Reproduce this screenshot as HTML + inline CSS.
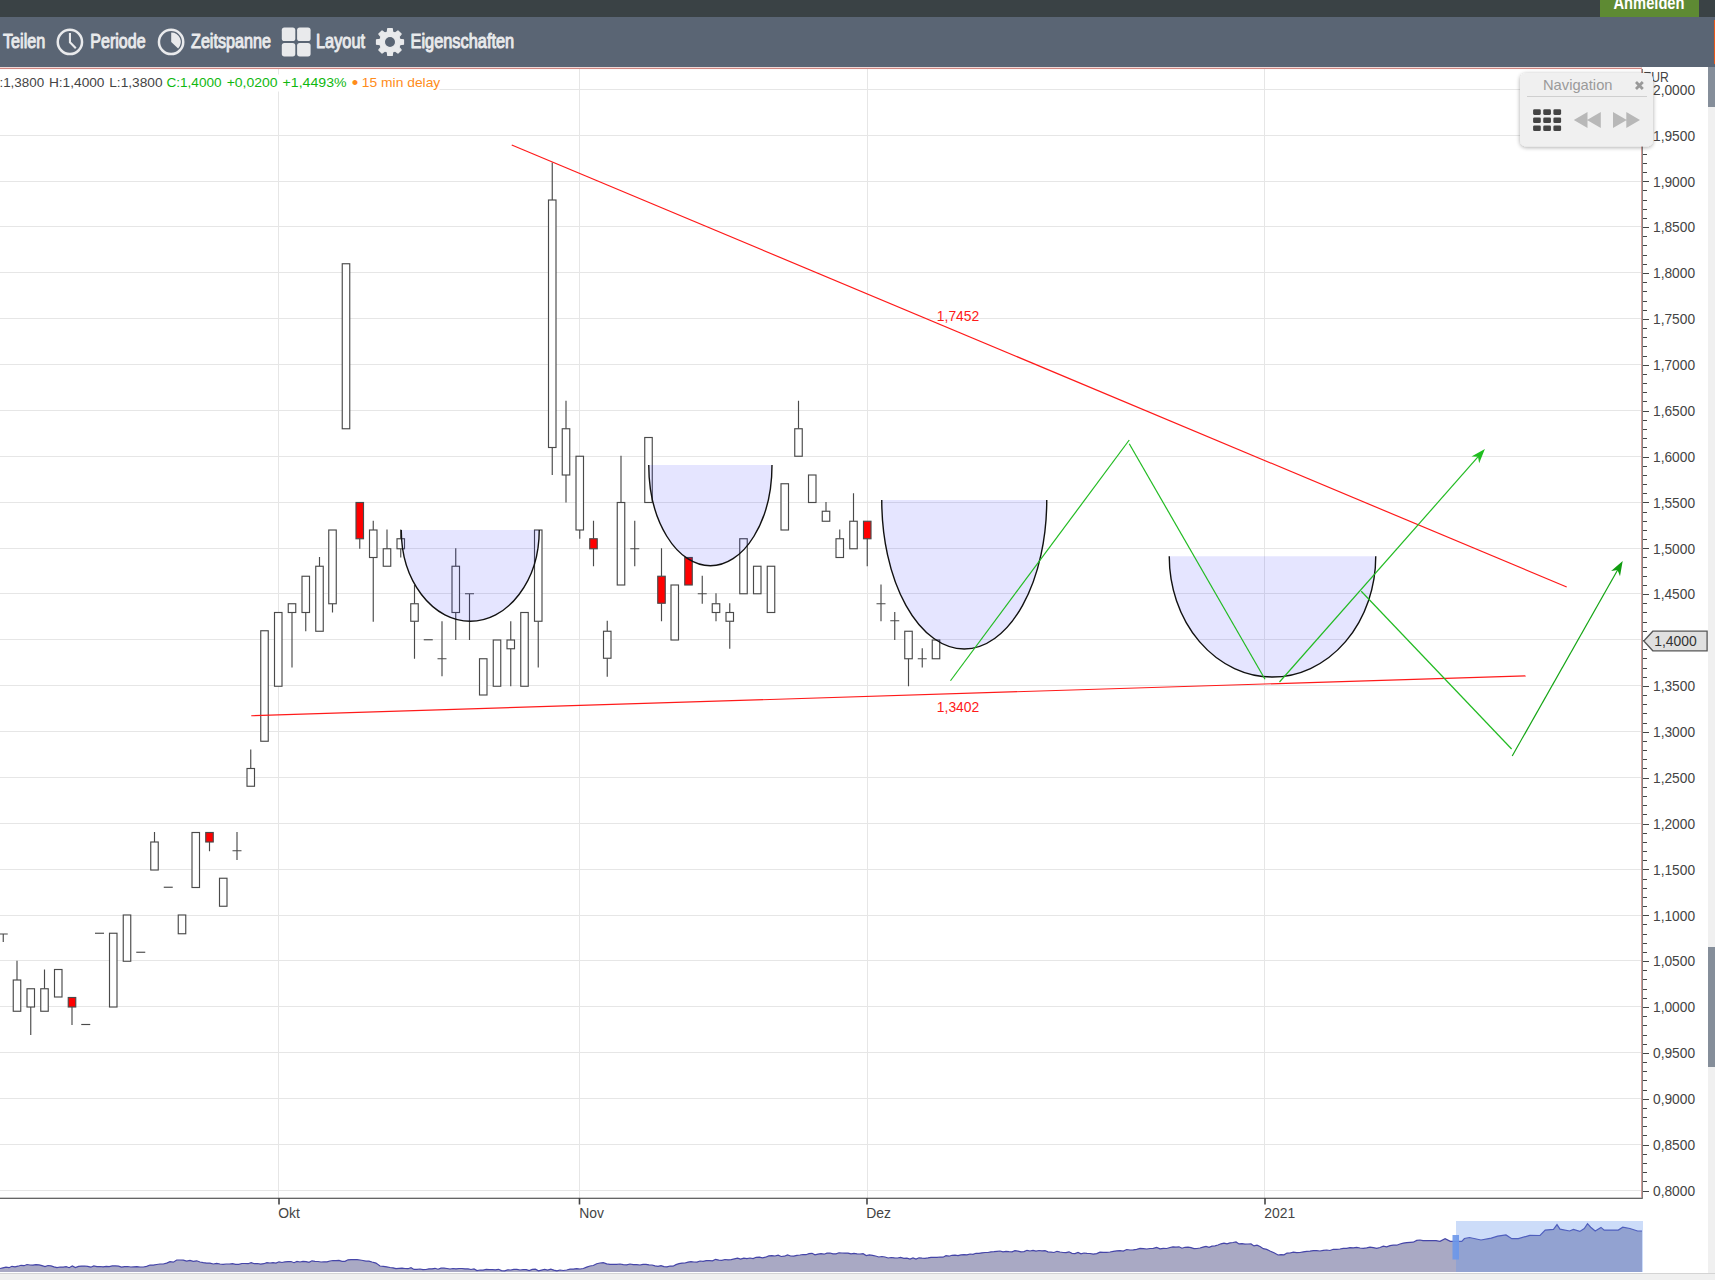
<!DOCTYPE html>
<html lang="de"><head><meta charset="utf-8"><title>Chart</title>
<style>
html,body{margin:0;padding:0;background:#fff;}
body{width:1715px;height:1280px;overflow:hidden;position:relative;font-family:"Liberation Sans", sans-serif;}
svg{display:block;position:absolute;left:0;top:0;}
text{font-family:"Liberation Sans", sans-serif;}
</style></head><body>
<svg width="1715" height="1280" viewBox="0 0 1715 1280">
<defs>
<filter id="sh" x="-10%" y="-10%" width="120%" height="130%"><feGaussianBlur in="SourceAlpha" stdDeviation="2"/><feOffset dx="0" dy="1"/><feComponentTransfer><feFuncA type="linear" slope="0.35"/></feComponentTransfer><feMerge><feMergeNode/><feMergeNode in="SourceGraphic"/></feMerge></filter>
</defs>
<rect x="0" y="0" width="1715" height="1280" fill="#ffffff"/>

<g id="grid" stroke="#e6e6e6" stroke-width="1">
<line x1="0" y1="89.5" x2="1642" y2="89.5"/>
<line x1="0" y1="135.5" x2="1642" y2="135.5"/>
<line x1="0" y1="181.5" x2="1642" y2="181.5"/>
<line x1="0" y1="226.5" x2="1642" y2="226.5"/>
<line x1="0" y1="272.5" x2="1642" y2="272.5"/>
<line x1="0" y1="318.5" x2="1642" y2="318.5"/>
<line x1="0" y1="364.5" x2="1642" y2="364.5"/>
<line x1="0" y1="410.5" x2="1642" y2="410.5"/>
<line x1="0" y1="456.5" x2="1642" y2="456.5"/>
<line x1="0" y1="502.5" x2="1642" y2="502.5"/>
<line x1="0" y1="548.5" x2="1642" y2="548.5"/>
<line x1="0" y1="593.5" x2="1642" y2="593.5"/>
<line x1="0" y1="639.5" x2="1642" y2="639.5"/>
<line x1="0" y1="685.5" x2="1642" y2="685.5"/>
<line x1="0" y1="731.5" x2="1642" y2="731.5"/>
<line x1="0" y1="777.5" x2="1642" y2="777.5"/>
<line x1="0" y1="823.5" x2="1642" y2="823.5"/>
<line x1="0" y1="869.5" x2="1642" y2="869.5"/>
<line x1="0" y1="915.5" x2="1642" y2="915.5"/>
<line x1="0" y1="960.5" x2="1642" y2="960.5"/>
<line x1="0" y1="1006.5" x2="1642" y2="1006.5"/>
<line x1="0" y1="1052.5" x2="1642" y2="1052.5"/>
<line x1="0" y1="1098.5" x2="1642" y2="1098.5"/>
<line x1="0" y1="1144.5" x2="1642" y2="1144.5"/>
<line x1="0" y1="1190.5" x2="1642" y2="1190.5"/>
<line x1="278.5" y1="69" x2="278.5" y2="1198"/>
<line x1="579.5" y1="69" x2="579.5" y2="1198"/>
<line x1="867.5" y1="69" x2="867.5" y2="1198"/>
<line x1="1264.5" y1="69" x2="1264.5" y2="1198"/>
</g>
<g id="candles" stroke="#4a4a4a" stroke-width="1.15" fill="#ffffff">
<path d="M-1.75 934H7.75M3.25 934V942" fill="none"/>
<path d="M17 960.75V980" fill="none"/>
<rect x="13.25" y="980" width="7.5" height="31.25" fill="#ffffff"/>
<path d="M30.75 1007V1035" fill="none"/>
<rect x="27.00" y="988.75" width="7.5" height="18.25" fill="#ffffff"/>
<path d="M44.5 969.5V988.75" fill="none"/>
<rect x="40.75" y="988.75" width="7.5" height="22.5" fill="#ffffff"/>
<rect x="54.50" y="969.5" width="7.5" height="27.5" fill="#ffffff"/>
<path d="M72 1007V1025" fill="none"/>
<rect x="68.25" y="997.5" width="7.5" height="9.5" fill="#ff0000"/>
<path d="M81.25 1024.5H90.25" fill="none"/>
<path d="M95.0 933.25H104.0" fill="none"/>
<rect x="109.50" y="933.25" width="7.5" height="73.75" fill="#ffffff"/>
<rect x="123.25" y="915" width="7.5" height="46.25" fill="#ffffff"/>
<path d="M136.25 952.25H145.25" fill="none"/>
<path d="M154.5 832V842" fill="none"/>
<rect x="150.75" y="842" width="7.5" height="28" fill="#ffffff"/>
<path d="M163.75 887.25H172.75" fill="none"/>
<rect x="178.25" y="915" width="7.5" height="18.75" fill="#ffffff"/>
<rect x="192.00" y="832.5" width="7.5" height="55.0" fill="#ffffff"/>
<path d="M209.5 842V851.25" fill="none"/>
<rect x="205.75" y="832.5" width="7.5" height="9.5" fill="#ff0000"/>
<rect x="219.50" y="878.25" width="7.5" height="28.0" fill="#ffffff"/>
<path d="M237 832V860M232.5 850.75H241.5" fill="none"/>
<path d="M250.75 749.5V768.5" fill="none"/>
<rect x="247.00" y="768.5" width="7.5" height="17.75" fill="#ffffff"/>
<rect x="260.75" y="630.75" width="7.5" height="110.5" fill="#ffffff"/>
<rect x="274.50" y="612.5" width="7.5" height="73.75" fill="#ffffff"/>
<path d="M292 612.5V667.5" fill="none"/>
<rect x="288.25" y="603.75" width="7.5" height="8.75" fill="#ffffff"/>
<path d="M305.75 612.5V631.25" fill="none"/>
<rect x="302.00" y="576.25" width="7.5" height="36.25" fill="#ffffff"/>
<path d="M319.5 557V566.25" fill="none"/>
<rect x="315.75" y="566.25" width="7.5" height="65.0" fill="#ffffff"/>
<path d="M332.5 603.75V612.5" fill="none"/>
<rect x="328.75" y="530" width="7.5" height="73.75" fill="#ffffff"/>
<rect x="342.25" y="263.75" width="7.5" height="165.0" fill="#ffffff"/>
<path d="M359.75 538.75V548.75" fill="none"/>
<rect x="356.00" y="502.5" width="7.5" height="36.25" fill="#ff0000"/>
<path d="M373.25 520.75V530M373.25 557.5V621.75" fill="none"/>
<rect x="369.50" y="530" width="7.5" height="27.5" fill="#ffffff"/>
<path d="M387 529.5V548.75" fill="none"/>
<rect x="383.25" y="548.75" width="7.5" height="17.5" fill="#ffffff"/>
<path d="M400.75 529.5V538.75M400.75 548.75V557.5" fill="none"/>
<rect x="397.00" y="538.75" width="7.5" height="10.0" fill="#ffffff"/>
<path d="M414.5 585V603.75M414.5 621.25V658.75" fill="none"/>
<rect x="410.75" y="603.75" width="7.5" height="17.5" fill="#ffffff"/>
<path d="M423.75 639.75H432.75" fill="none"/>
<path d="M442 621.25V676.25M437.5 658.75H446.5" fill="none"/>
<path d="M455.75 548.25V566.25M455.75 612.5V640" fill="none"/>
<rect x="452.00" y="566.25" width="7.5" height="46.25" fill="#ffffff"/>
<path d="M469.5 593.75V640M465.0 593.75H474.0" fill="none"/>
<rect x="479.50" y="658.75" width="7.5" height="36.25" fill="#ffffff"/>
<rect x="493.25" y="640" width="7.5" height="46.25" fill="#ffffff"/>
<path d="M510.75 621.25V640M510.75 648.75V686.25" fill="none"/>
<rect x="507.00" y="640" width="7.5" height="8.75" fill="#ffffff"/>
<rect x="520.75" y="612.5" width="7.5" height="73.75" fill="#ffffff"/>
<path d="M538.25 621.25V667.5" fill="none"/>
<rect x="534.50" y="530" width="7.5" height="91.25" fill="#ffffff"/>
<path d="M552.25 162.5V200M552.25 447.5V475" fill="none"/>
<rect x="548.50" y="200" width="7.5" height="247.5" fill="#ffffff"/>
<path d="M566 400.75V428.75M566 475V502.5" fill="none"/>
<rect x="562.25" y="428.75" width="7.5" height="46.25" fill="#ffffff"/>
<path d="M579.75 530V538.75" fill="none"/>
<rect x="576.00" y="456.25" width="7.5" height="73.75" fill="#ffffff"/>
<path d="M593.5 520.75V538.75M593.5 548.75V566.25" fill="none"/>
<rect x="589.75" y="538.75" width="7.5" height="10.0" fill="#ff0000"/>
<path d="M607.25 620.75V631.25M607.25 658.25V676.75" fill="none"/>
<rect x="603.50" y="631.25" width="7.5" height="27.0" fill="#ffffff"/>
<path d="M621 455.75V502.5" fill="none"/>
<rect x="617.25" y="502.5" width="7.5" height="82.5" fill="#ffffff"/>
<path d="M634.75 520.75V566.25M630.25 548.75H639.25" fill="none"/>
<rect x="644.75" y="437.5" width="7.5" height="65.0" fill="#ffffff"/>
<path d="M661.5 548.25V576.25M661.5 603.25V621.25" fill="none"/>
<rect x="657.75" y="576.25" width="7.5" height="27.0" fill="#ff0000"/>
<rect x="671.00" y="585" width="7.5" height="55" fill="#ffffff"/>
<rect x="684.75" y="557.5" width="7.5" height="27.5" fill="#ff0000"/>
<path d="M702.25 575.75V603.75M697.75 593.75H706.75" fill="none"/>
<path d="M716 593.25V603.75M716 612.5V621.25" fill="none"/>
<rect x="712.25" y="603.75" width="7.5" height="8.75" fill="#ffffff"/>
<path d="M729.75 603.25V612.5M729.75 621.25V648.75" fill="none"/>
<rect x="726.00" y="612.5" width="7.5" height="8.75" fill="#ffffff"/>
<rect x="739.75" y="538.75" width="7.5" height="55.0" fill="#ffffff"/>
<rect x="753.50" y="566.25" width="7.5" height="27.5" fill="#ffffff"/>
<rect x="767.25" y="566.25" width="7.5" height="46.25" fill="#ffffff"/>
<rect x="781.00" y="483.75" width="7.5" height="46.25" fill="#ffffff"/>
<path d="M798.5 400.75V428.75" fill="none"/>
<rect x="794.75" y="428.75" width="7.5" height="27.5" fill="#ffffff"/>
<rect x="808.50" y="475" width="7.5" height="27.5" fill="#ffffff"/>
<path d="M826 502V511.25" fill="none"/>
<rect x="822.25" y="511.25" width="7.5" height="10.0" fill="#ffffff"/>
<path d="M839.75 529.5V538.75" fill="none"/>
<rect x="836.00" y="538.75" width="7.5" height="18.75" fill="#ffffff"/>
<path d="M853.5 493.25V521.25" fill="none"/>
<rect x="849.75" y="521.25" width="7.5" height="27.5" fill="#ffffff"/>
<path d="M867.25 538.75V566.25" fill="none"/>
<rect x="863.50" y="521.25" width="7.5" height="17.5" fill="#ff0000"/>
<path d="M881 584.5V621.25M876.5 603.75H885.5" fill="none"/>
<path d="M894.75 612V640M890.25 620.75H899.25" fill="none"/>
<path d="M908.5 658.75V686.25" fill="none"/>
<rect x="904.75" y="631.25" width="7.5" height="27.5" fill="#ffffff"/>
<path d="M922.25 648.25V667.5M917.75 658.75H926.75" fill="none"/>
<rect x="932.25" y="640" width="7.5" height="18.75" fill="#ffffff"/>
</g>
<path d="M401.25 530A69.0 91.25 0 0 0 539.25 530Z" fill="#0000ff" fill-opacity="0.1" stroke="none"/>
<path d="M401.25 530A69.0 91.25 0 0 0 539.25 530" fill="none" stroke="#111" stroke-width="1.4"/>
<path d="M648.75 465A61.625 100.75 0 0 0 772 465Z" fill="#0000ff" fill-opacity="0.1" stroke="none"/>
<path d="M648.75 465A61.625 100.75 0 0 0 772 465" fill="none" stroke="#111" stroke-width="1.4"/>
<path d="M881.75 500A82.5 149 0 0 0 1046.75 500Z" fill="#0000ff" fill-opacity="0.1" stroke="none"/>
<path d="M881.75 500A82.5 149 0 0 0 1046.75 500" fill="none" stroke="#111" stroke-width="1.4"/>
<path d="M1169.25 556.25A103.25 120.75 0 0 0 1375.75 556.25Z" fill="#0000ff" fill-opacity="0.1" stroke="none"/>
<path d="M1169.25 556.25A103.25 120.75 0 0 0 1375.75 556.25" fill="none" stroke="#111" stroke-width="1.4"/>
<g stroke="#ff1a1a" stroke-width="1.2" fill="none">
<line x1="511.75" y1="145" x2="1566.7" y2="587"/>
<line x1="251.25" y1="715.75" x2="1525.4" y2="675.8"/>
</g>
<text x="936.8" y="320.8" font-size="13.9" fill="#ff1a1a">1,7452</text>
<text x="936.8" y="712" font-size="13.9" fill="#ff1a1a">1,3402</text>
<g stroke="#22bb22" stroke-width="1.2" fill="none">
<line x1="950.5" y1="680.75" x2="1129.25" y2="440"/>
<line x1="1129.25" y1="443.75" x2="1265" y2="679.25"/>
<line x1="1279.5" y1="682" x2="1479.5" y2="455.2"/>
<line x1="1361.25" y1="591.25" x2="1511.6" y2="749"/>
<line x1="1512.2" y1="756" x2="1618.6" y2="568.2" stroke="#14a514"/>
</g>
<polygon points="1484.90,449.00 1479.14,463.25 1478.02,456.80 1471.49,456.50" fill="#1fbe1f"/>
<polygon points="1622.70,561.00 1619.99,576.13 1617.57,570.05 1611.11,571.10" fill="#109c10"/>
<rect x="0" y="74.5" width="439.5" height="17" fill="#ffffff"/>
<text x="-11" y="87.4" font-size="13" fill="#444" textLength="55.2" lengthAdjust="spacingAndGlyphs">O:1,3800</text>
<text x="48.9" y="87.4" font-size="13" fill="#444" textLength="55.6" lengthAdjust="spacingAndGlyphs">H:1,4000</text>
<text x="109.2" y="87.4" font-size="13" fill="#444" textLength="53.4" lengthAdjust="spacingAndGlyphs">L:1,3800</text>
<text x="166.4" y="87.4" font-size="13" fill="#0fb80f" textLength="55.2" lengthAdjust="spacingAndGlyphs">C:1,4000</text>
<text x="226.7" y="87.4" font-size="13" fill="#0fb80f" textLength="50.9" lengthAdjust="spacingAndGlyphs">+0,0200</text>
<text x="282.6" y="87.4" font-size="13" fill="#0fb80f" textLength="64" lengthAdjust="spacingAndGlyphs">+1,4493%</text>
<text x="351.7" y="89.4" font-size="18.5" fill="#ff8c1a">•</text>
<text x="361.8" y="87.4" font-size="13" fill="#ff8c1a" textLength="78.5" lengthAdjust="spacingAndGlyphs">15 min delay</text>
<rect x="0" y="67.7" width="1642.1" height="1.35" fill="#cf8580"/>
<rect x="1641.0" y="67.7" width="1.0" height="1130" fill="#d59a96"/>
<rect x="1642.0" y="69" width="0.8" height="1129" fill="#666"/>
<rect x="0" y="1197.7" width="1642.8" height="1.2" fill="#555"/>
<g stroke="#444" stroke-width="1.1" shape-rendering="crispEdges">
<line x1="1643" y1="90.5" x2="1649" y2="90.5"/>
<line x1="1643" y1="99.5" x2="1647" y2="99.5"/>
<line x1="1643" y1="108.5" x2="1647" y2="108.5"/>
<line x1="1643" y1="117.5" x2="1647" y2="117.5"/>
<line x1="1643" y1="126.5" x2="1647" y2="126.5"/>
<line x1="1643" y1="135.5" x2="1649" y2="135.5"/>
<line x1="1643" y1="145.5" x2="1647" y2="145.5"/>
<line x1="1643" y1="154.5" x2="1647" y2="154.5"/>
<line x1="1643" y1="163.5" x2="1647" y2="163.5"/>
<line x1="1643" y1="172.5" x2="1647" y2="172.5"/>
<line x1="1643" y1="181.5" x2="1649" y2="181.5"/>
<line x1="1643" y1="190.5" x2="1647" y2="190.5"/>
<line x1="1643" y1="200.5" x2="1647" y2="200.5"/>
<line x1="1643" y1="209.5" x2="1647" y2="209.5"/>
<line x1="1643" y1="218.5" x2="1647" y2="218.5"/>
<line x1="1643" y1="227.5" x2="1649" y2="227.5"/>
<line x1="1643" y1="236.5" x2="1647" y2="236.5"/>
<line x1="1643" y1="245.5" x2="1647" y2="245.5"/>
<line x1="1643" y1="255.5" x2="1647" y2="255.5"/>
<line x1="1643" y1="264.5" x2="1647" y2="264.5"/>
<line x1="1643" y1="273.5" x2="1649" y2="273.5"/>
<line x1="1643" y1="282.5" x2="1647" y2="282.5"/>
<line x1="1643" y1="291.5" x2="1647" y2="291.5"/>
<line x1="1643" y1="301.5" x2="1647" y2="301.5"/>
<line x1="1643" y1="310.5" x2="1647" y2="310.5"/>
<line x1="1643" y1="319.5" x2="1649" y2="319.5"/>
<line x1="1643" y1="328.5" x2="1647" y2="328.5"/>
<line x1="1643" y1="337.5" x2="1647" y2="337.5"/>
<line x1="1643" y1="346.5" x2="1647" y2="346.5"/>
<line x1="1643" y1="356.5" x2="1647" y2="356.5"/>
<line x1="1643" y1="365.5" x2="1649" y2="365.5"/>
<line x1="1643" y1="374.5" x2="1647" y2="374.5"/>
<line x1="1643" y1="383.5" x2="1647" y2="383.5"/>
<line x1="1643" y1="392.5" x2="1647" y2="392.5"/>
<line x1="1643" y1="401.5" x2="1647" y2="401.5"/>
<line x1="1643" y1="411.5" x2="1649" y2="411.5"/>
<line x1="1643" y1="420.5" x2="1647" y2="420.5"/>
<line x1="1643" y1="429.5" x2="1647" y2="429.5"/>
<line x1="1643" y1="438.5" x2="1647" y2="438.5"/>
<line x1="1643" y1="447.5" x2="1647" y2="447.5"/>
<line x1="1643" y1="457.5" x2="1649" y2="457.5"/>
<line x1="1643" y1="466.5" x2="1647" y2="466.5"/>
<line x1="1643" y1="475.5" x2="1647" y2="475.5"/>
<line x1="1643" y1="484.5" x2="1647" y2="484.5"/>
<line x1="1643" y1="493.5" x2="1647" y2="493.5"/>
<line x1="1643" y1="502.5" x2="1649" y2="502.5"/>
<line x1="1643" y1="512.5" x2="1647" y2="512.5"/>
<line x1="1643" y1="521.5" x2="1647" y2="521.5"/>
<line x1="1643" y1="530.5" x2="1647" y2="530.5"/>
<line x1="1643" y1="539.5" x2="1647" y2="539.5"/>
<line x1="1643" y1="548.5" x2="1649" y2="548.5"/>
<line x1="1643" y1="557.5" x2="1647" y2="557.5"/>
<line x1="1643" y1="567.5" x2="1647" y2="567.5"/>
<line x1="1643" y1="576.5" x2="1647" y2="576.5"/>
<line x1="1643" y1="585.5" x2="1647" y2="585.5"/>
<line x1="1643" y1="594.5" x2="1649" y2="594.5"/>
<line x1="1643" y1="603.5" x2="1647" y2="603.5"/>
<line x1="1643" y1="612.5" x2="1647" y2="612.5"/>
<line x1="1643" y1="622.5" x2="1647" y2="622.5"/>
<line x1="1643" y1="631.5" x2="1647" y2="631.5"/>
<line x1="1643" y1="640.5" x2="1649" y2="640.5"/>
<line x1="1643" y1="649.5" x2="1647" y2="649.5"/>
<line x1="1643" y1="658.5" x2="1647" y2="658.5"/>
<line x1="1643" y1="668.5" x2="1647" y2="668.5"/>
<line x1="1643" y1="677.5" x2="1647" y2="677.5"/>
<line x1="1643" y1="686.5" x2="1649" y2="686.5"/>
<line x1="1643" y1="695.5" x2="1647" y2="695.5"/>
<line x1="1643" y1="704.5" x2="1647" y2="704.5"/>
<line x1="1643" y1="713.5" x2="1647" y2="713.5"/>
<line x1="1643" y1="723.5" x2="1647" y2="723.5"/>
<line x1="1643" y1="732.5" x2="1649" y2="732.5"/>
<line x1="1643" y1="741.5" x2="1647" y2="741.5"/>
<line x1="1643" y1="750.5" x2="1647" y2="750.5"/>
<line x1="1643" y1="759.5" x2="1647" y2="759.5"/>
<line x1="1643" y1="768.5" x2="1647" y2="768.5"/>
<line x1="1643" y1="778.5" x2="1649" y2="778.5"/>
<line x1="1643" y1="787.5" x2="1647" y2="787.5"/>
<line x1="1643" y1="796.5" x2="1647" y2="796.5"/>
<line x1="1643" y1="805.5" x2="1647" y2="805.5"/>
<line x1="1643" y1="814.5" x2="1647" y2="814.5"/>
<line x1="1643" y1="824.5" x2="1649" y2="824.5"/>
<line x1="1643" y1="833.5" x2="1647" y2="833.5"/>
<line x1="1643" y1="842.5" x2="1647" y2="842.5"/>
<line x1="1643" y1="851.5" x2="1647" y2="851.5"/>
<line x1="1643" y1="860.5" x2="1647" y2="860.5"/>
<line x1="1643" y1="869.5" x2="1649" y2="869.5"/>
<line x1="1643" y1="879.5" x2="1647" y2="879.5"/>
<line x1="1643" y1="888.5" x2="1647" y2="888.5"/>
<line x1="1643" y1="897.5" x2="1647" y2="897.5"/>
<line x1="1643" y1="906.5" x2="1647" y2="906.5"/>
<line x1="1643" y1="915.5" x2="1649" y2="915.5"/>
<line x1="1643" y1="924.5" x2="1647" y2="924.5"/>
<line x1="1643" y1="934.5" x2="1647" y2="934.5"/>
<line x1="1643" y1="943.5" x2="1647" y2="943.5"/>
<line x1="1643" y1="952.5" x2="1647" y2="952.5"/>
<line x1="1643" y1="961.5" x2="1649" y2="961.5"/>
<line x1="1643" y1="970.5" x2="1647" y2="970.5"/>
<line x1="1643" y1="979.5" x2="1647" y2="979.5"/>
<line x1="1643" y1="989.5" x2="1647" y2="989.5"/>
<line x1="1643" y1="998.5" x2="1647" y2="998.5"/>
<line x1="1643" y1="1007.5" x2="1649" y2="1007.5"/>
<line x1="1643" y1="1016.5" x2="1647" y2="1016.5"/>
<line x1="1643" y1="1025.5" x2="1647" y2="1025.5"/>
<line x1="1643" y1="1035.5" x2="1647" y2="1035.5"/>
<line x1="1643" y1="1044.5" x2="1647" y2="1044.5"/>
<line x1="1643" y1="1053.5" x2="1649" y2="1053.5"/>
<line x1="1643" y1="1062.5" x2="1647" y2="1062.5"/>
<line x1="1643" y1="1071.5" x2="1647" y2="1071.5"/>
<line x1="1643" y1="1080.5" x2="1647" y2="1080.5"/>
<line x1="1643" y1="1090.5" x2="1647" y2="1090.5"/>
<line x1="1643" y1="1099.5" x2="1649" y2="1099.5"/>
<line x1="1643" y1="1108.5" x2="1647" y2="1108.5"/>
<line x1="1643" y1="1117.5" x2="1647" y2="1117.5"/>
<line x1="1643" y1="1126.5" x2="1647" y2="1126.5"/>
<line x1="1643" y1="1135.5" x2="1647" y2="1135.5"/>
<line x1="1643" y1="1145.5" x2="1649" y2="1145.5"/>
<line x1="1643" y1="1154.5" x2="1647" y2="1154.5"/>
<line x1="1643" y1="1163.5" x2="1647" y2="1163.5"/>
<line x1="1643" y1="1172.5" x2="1647" y2="1172.5"/>
<line x1="1643" y1="1181.5" x2="1647" y2="1181.5"/>
<line x1="1643" y1="1191.5" x2="1649" y2="1191.5"/>
</g>
<g font-size="13.75" fill="#444">
<text x="1643.2" y="81.7" textLength="25.6" lengthAdjust="spacingAndGlyphs">EUR</text>
<text x="1653.0" y="94.80">2,0000</text>
<text x="1653.0" y="140.68">1,9500</text>
<text x="1653.0" y="186.55">1,9000</text>
<text x="1653.0" y="232.42">1,8500</text>
<text x="1653.0" y="278.30">1,8000</text>
<text x="1653.0" y="324.18">1,7500</text>
<text x="1653.0" y="370.05">1,7000</text>
<text x="1653.0" y="415.93">1,6500</text>
<text x="1653.0" y="461.80">1,6000</text>
<text x="1653.0" y="507.67">1,5500</text>
<text x="1653.0" y="553.55">1,5000</text>
<text x="1653.0" y="599.42">1,4500</text>
<text x="1653.0" y="691.17">1,3500</text>
<text x="1653.0" y="737.05">1,3000</text>
<text x="1653.0" y="782.92">1,2500</text>
<text x="1653.0" y="828.80">1,2000</text>
<text x="1653.0" y="874.68">1,1500</text>
<text x="1653.0" y="920.55">1,1000</text>
<text x="1653.0" y="966.43">1,0500</text>
<text x="1653.0" y="1012.30">1,0000</text>
<text x="1653.0" y="1058.17">0,9500</text>
<text x="1653.0" y="1104.05">0,9000</text>
<text x="1653.0" y="1149.93">0,8500</text>
<text x="1653.0" y="1195.80">0,8000</text>
</g>
<path d="M1643.8 641L1652.8 631.2H1707.1V650.8H1652.8Z" fill="#e0e0e0" stroke="#555" stroke-width="1.3"/>
<text x="1654.2" y="645.6" font-size="13.9" fill="#333">1,4000</text>
<g stroke="#444" stroke-width="1.6">
<line x1="279" y1="1198" x2="279" y2="1204.5"/>
<line x1="579.5" y1="1198" x2="579.5" y2="1204.5"/>
<line x1="867" y1="1198" x2="867" y2="1204.5"/>
<line x1="1265" y1="1198" x2="1265" y2="1204.5"/>
</g>
<g font-size="13.9" fill="#444">
<text x="278.3" y="1218">Okt</text>
<text x="579.3" y="1218">Nov</text>
<text x="866.3" y="1218">Dez</text>
<text x="1264.3" y="1218">2021</text>
</g>
<polygon points="0,1272 0.0,1268.5 3.0,1267.8 6.0,1267.2 9.0,1267.7 12.0,1266.3 15.0,1266.8 18.0,1266.2 21.0,1265.3 24.0,1265.7 27.0,1264.5 30.0,1265.0 33.0,1265.1 36.0,1264.6 39.0,1264.9 42.0,1265.7 45.0,1266.6 48.0,1265.5 51.0,1265.9 54.0,1266.8 57.0,1267.6 60.0,1267.0 63.1,1267.1 66.2,1266.7 69.2,1267.7 72.3,1266.0 75.4,1267.5 78.5,1266.4 81.5,1266.1 84.6,1266.0 87.7,1266.3 90.8,1267.2 93.8,1266.0 96.9,1266.7 100.0,1266.5 103.1,1266.8 106.2,1266.3 109.2,1266.7 112.3,1265.9 115.4,1265.9 118.5,1266.2 121.5,1267.1 124.6,1266.7 127.7,1266.5 130.8,1267.0 133.8,1266.8 136.9,1266.6 140.0,1267.0 143.3,1267.0 146.7,1266.4 150.0,1265.0 153.3,1265.1 156.7,1264.5 160.0,1264.0 163.3,1264.0 166.7,1263.1 170.0,1261.6 173.3,1262.2 176.7,1260.0 180.0,1260.0 183.3,1260.2 186.7,1261.1 190.0,1260.4 193.3,1261.3 196.7,1260.8 200.0,1262.0 203.3,1262.6 206.7,1263.1 210.0,1263.1 213.3,1264.0 216.7,1263.3 220.0,1264.0 223.1,1264.3 226.2,1264.0 229.4,1264.0 232.5,1263.7 235.6,1264.3 238.8,1264.4 241.9,1263.5 245.0,1263.5 248.1,1263.7 251.2,1262.6 254.4,1263.7 257.5,1263.5 260.6,1264.1 263.8,1263.7 266.9,1262.7 270.0,1263.0 273.0,1262.7 276.0,1263.1 279.0,1261.8 282.0,1262.5 285.0,1261.9 288.0,1261.7 291.0,1261.5 294.0,1262.7 297.0,1261.4 300.0,1262.0 303.0,1261.4 306.0,1261.6 309.0,1262.4 312.0,1260.8 315.0,1261.4 318.0,1261.5 321.0,1262.0 324.0,1261.8 327.0,1261.8 330.0,1261.0 333.0,1260.5 336.0,1260.6 339.0,1260.4 342.0,1261.3 345.0,1261.3 348.0,1259.8 351.0,1259.7 354.0,1259.7 357.0,1259.6 360.0,1260.0 363.0,1260.5 366.0,1261.2 369.0,1261.1 372.0,1262.0 376.0,1263.1 380.0,1266.0 383.3,1266.4 386.7,1266.8 390.0,1267.5 393.0,1267.8 396.0,1268.6 399.0,1268.3 402.0,1268.1 405.0,1268.5 408.0,1268.7 411.0,1267.7 414.0,1269.4 417.0,1269.4 420.0,1269.0 423.0,1269.7 426.0,1269.5 429.0,1268.8 432.0,1268.8 435.0,1268.3 438.0,1269.2 441.0,1268.2 444.0,1268.2 447.0,1268.5 450.0,1269.0 453.0,1268.5 456.0,1268.9 459.0,1268.5 462.0,1268.5 465.0,1268.9 468.0,1268.9 471.0,1269.5 474.0,1268.9 477.0,1270.6 480.0,1270.0 483.1,1270.2 486.2,1269.4 489.2,1269.6 492.3,1269.7 495.4,1269.8 498.5,1269.3 501.5,1270.6 504.6,1270.9 507.7,1269.9 510.8,1270.0 513.8,1269.3 516.9,1269.3 520.0,1270.0 523.1,1269.7 526.2,1269.6 529.2,1270.6 532.3,1269.4 535.4,1269.1 538.5,1270.8 541.5,1270.1 544.6,1269.4 547.7,1270.1 550.8,1269.1 553.8,1270.1 556.9,1270.9 560.0,1270.0 563.3,1270.5 566.7,1270.0 570.0,1269.1 573.3,1269.1 576.7,1268.6 580.0,1269.0 583.3,1268.5 586.7,1267.1 590.0,1266.0 593.3,1265.5 596.7,1263.7 600.0,1263.0 603.3,1262.7 606.7,1263.9 610.0,1264.4 613.3,1264.3 616.7,1264.4 620.0,1264.0 623.3,1264.7 626.7,1264.8 630.0,1264.0 633.3,1264.7 636.7,1264.6 640.0,1265.0 643.0,1264.3 646.0,1264.4 649.0,1264.9 652.0,1265.0 655.0,1265.8 658.0,1266.4 661.0,1265.6 664.0,1266.6 667.0,1266.8 670.0,1266.0 673.0,1266.2 676.0,1264.6 679.0,1263.7 682.0,1263.1 685.0,1263.0 688.0,1262.1 691.0,1261.7 694.0,1262.0 697.0,1262.1 700.0,1261.0 703.1,1261.4 706.2,1260.6 709.4,1260.7 712.5,1260.8 715.6,1259.3 718.8,1260.2 721.9,1260.4 725.0,1259.5 728.1,1259.8 731.2,1259.6 734.4,1258.9 737.5,1258.2 740.6,1259.1 743.8,1258.1 746.9,1258.7 750.0,1258.0 753.1,1258.6 756.2,1257.3 759.4,1257.1 762.5,1257.8 765.6,1257.2 768.8,1255.9 771.9,1255.6 775.0,1256.0 778.1,1255.2 781.2,1256.5 784.4,1256.2 787.5,1254.9 790.6,1256.0 793.8,1256.1 796.9,1255.4 800.0,1255.0 803.0,1254.5 806.0,1254.7 809.0,1253.7 812.0,1253.3 815.0,1254.8 818.0,1254.1 821.0,1253.6 824.0,1254.2 827.0,1253.1 830.0,1253.0 833.0,1253.8 836.0,1253.8 839.0,1252.8 842.0,1253.0 845.0,1253.1 848.0,1253.1 851.0,1253.9 854.0,1253.4 857.0,1253.8 860.0,1254.0 863.1,1253.7 866.2,1255.5 869.4,1254.9 872.5,1255.4 875.6,1256.0 878.8,1257.0 881.9,1256.5 885.0,1257.0 888.1,1258.0 891.2,1257.5 894.4,1257.8 897.5,1258.0 900.6,1257.4 903.8,1258.4 906.9,1258.2 910.0,1259.0 913.0,1257.9 916.0,1259.1 919.0,1257.8 922.0,1258.2 925.0,1258.4 928.0,1257.9 931.0,1257.3 934.0,1257.4 937.0,1257.3 940.0,1257.0 943.0,1257.2 946.0,1255.7 949.0,1256.2 952.0,1255.3 955.0,1255.1 958.0,1255.7 961.0,1254.9 964.0,1254.7 967.0,1254.8 970.0,1254.0 973.0,1254.4 976.0,1253.3 979.0,1253.3 982.0,1252.8 985.0,1252.5 988.0,1252.5 991.0,1251.8 994.0,1251.7 997.0,1251.3 1000.0,1251.0 1003.0,1251.8 1006.0,1251.4 1009.0,1251.7 1012.0,1251.8 1015.0,1250.6 1018.0,1251.1 1021.0,1251.8 1024.0,1251.6 1027.0,1250.3 1030.0,1251.0 1033.0,1250.4 1036.0,1251.1 1039.0,1250.5 1042.0,1250.9 1045.0,1250.7 1048.0,1251.9 1051.0,1252.2 1054.0,1252.5 1057.0,1251.3 1060.0,1252.0 1063.0,1252.5 1066.0,1252.6 1069.0,1251.8 1072.0,1253.3 1075.0,1253.6 1078.0,1252.4 1081.0,1253.9 1084.0,1253.0 1087.0,1253.3 1090.0,1253.5 1093.3,1254.1 1096.7,1253.6 1100.0,1252.1 1103.3,1252.4 1106.7,1252.3 1110.0,1252.0 1113.3,1251.4 1116.7,1250.8 1120.0,1250.7 1123.3,1251.1 1126.7,1249.5 1130.0,1250.0 1133.3,1249.8 1136.7,1249.4 1140.0,1248.4 1143.3,1248.7 1146.7,1249.0 1150.0,1248.5 1153.3,1248.4 1156.7,1247.4 1160.0,1248.9 1163.3,1248.4 1166.7,1248.5 1170.0,1247.5 1173.0,1246.8 1176.0,1247.2 1179.0,1246.8 1182.0,1248.2 1185.0,1247.3 1188.0,1247.1 1191.0,1247.7 1194.0,1248.6 1197.0,1248.5 1200.0,1248.0 1203.0,1247.1 1206.0,1246.4 1209.0,1247.3 1212.0,1246.1 1215.0,1245.9 1218.0,1245.0 1221.0,1243.8 1224.0,1243.2 1227.0,1243.8 1230.0,1242.9 1233.0,1242.5 1236.0,1242.0 1239.0,1243.9 1242.0,1243.6 1245.0,1244.2 1248.0,1244.0 1251.0,1243.9 1254.0,1245.9 1257.0,1245.1 1260.0,1246.5 1263.3,1248.7 1266.7,1249.4 1270.0,1251.0 1274.0,1252.7 1278.0,1255.0 1281.0,1254.6 1284.0,1254.8 1287.0,1253.1 1290.0,1253.0 1293.3,1252.2 1296.7,1252.7 1300.0,1252.5 1303.3,1251.8 1306.7,1251.3 1310.0,1251.1 1313.3,1250.7 1316.7,1250.7 1320.0,1251.0 1323.3,1250.3 1326.7,1250.0 1330.0,1250.5 1333.3,1249.3 1336.7,1249.3 1340.0,1249.0 1343.3,1248.3 1346.7,1248.4 1350.0,1247.6 1353.3,1247.9 1356.7,1247.3 1360.0,1248.0 1363.3,1248.3 1366.7,1247.9 1370.0,1247.2 1373.3,1247.6 1376.7,1248.4 1380.0,1247.5 1383.3,1246.2 1386.7,1246.9 1390.0,1245.6 1393.3,1245.2 1396.7,1245.2 1400.0,1244.0 1403.3,1243.1 1406.7,1242.7 1410.0,1242.3 1413.3,1242.2 1416.7,1240.4 1420.0,1240.0 1423.0,1240.7 1426.0,1240.6 1429.0,1240.6 1432.0,1240.5 1436.0,1240.7 1440.0,1241.3 1445.1,1238.7 1450.3,1241.3 1461.8,1241.3 1464.4,1238.5 1469.5,1237.5 1481.0,1240.0 1491.3,1238.1 1497.7,1236.2 1506.0,1234.9 1511.8,1238.7 1518.3,1238.7 1529.8,1235.3 1540.0,1235.5 1545.2,1230.1 1553.5,1229.4 1557.0,1224.6 1560.0,1229.1 1569.6,1231.0 1573.4,1229.4 1579.8,1231.4 1584.3,1228.5 1587.5,1223.7 1590.7,1227.2 1595.2,1231.0 1601.0,1227.4 1604.2,1230.1 1618.3,1230.1 1622.8,1227.2 1629.9,1228.5 1637.6,1231.0 1642.0,1231.0 1642,1272" fill="#a9a9c4"/>
<polyline points="0.0,1268.5 3.0,1267.8 6.0,1267.2 9.0,1267.7 12.0,1266.3 15.0,1266.8 18.0,1266.2 21.0,1265.3 24.0,1265.7 27.0,1264.5 30.0,1265.0 33.0,1265.1 36.0,1264.6 39.0,1264.9 42.0,1265.7 45.0,1266.6 48.0,1265.5 51.0,1265.9 54.0,1266.8 57.0,1267.6 60.0,1267.0 63.1,1267.1 66.2,1266.7 69.2,1267.7 72.3,1266.0 75.4,1267.5 78.5,1266.4 81.5,1266.1 84.6,1266.0 87.7,1266.3 90.8,1267.2 93.8,1266.0 96.9,1266.7 100.0,1266.5 103.1,1266.8 106.2,1266.3 109.2,1266.7 112.3,1265.9 115.4,1265.9 118.5,1266.2 121.5,1267.1 124.6,1266.7 127.7,1266.5 130.8,1267.0 133.8,1266.8 136.9,1266.6 140.0,1267.0 143.3,1267.0 146.7,1266.4 150.0,1265.0 153.3,1265.1 156.7,1264.5 160.0,1264.0 163.3,1264.0 166.7,1263.1 170.0,1261.6 173.3,1262.2 176.7,1260.0 180.0,1260.0 183.3,1260.2 186.7,1261.1 190.0,1260.4 193.3,1261.3 196.7,1260.8 200.0,1262.0 203.3,1262.6 206.7,1263.1 210.0,1263.1 213.3,1264.0 216.7,1263.3 220.0,1264.0 223.1,1264.3 226.2,1264.0 229.4,1264.0 232.5,1263.7 235.6,1264.3 238.8,1264.4 241.9,1263.5 245.0,1263.5 248.1,1263.7 251.2,1262.6 254.4,1263.7 257.5,1263.5 260.6,1264.1 263.8,1263.7 266.9,1262.7 270.0,1263.0 273.0,1262.7 276.0,1263.1 279.0,1261.8 282.0,1262.5 285.0,1261.9 288.0,1261.7 291.0,1261.5 294.0,1262.7 297.0,1261.4 300.0,1262.0 303.0,1261.4 306.0,1261.6 309.0,1262.4 312.0,1260.8 315.0,1261.4 318.0,1261.5 321.0,1262.0 324.0,1261.8 327.0,1261.8 330.0,1261.0 333.0,1260.5 336.0,1260.6 339.0,1260.4 342.0,1261.3 345.0,1261.3 348.0,1259.8 351.0,1259.7 354.0,1259.7 357.0,1259.6 360.0,1260.0 363.0,1260.5 366.0,1261.2 369.0,1261.1 372.0,1262.0 376.0,1263.1 380.0,1266.0 383.3,1266.4 386.7,1266.8 390.0,1267.5 393.0,1267.8 396.0,1268.6 399.0,1268.3 402.0,1268.1 405.0,1268.5 408.0,1268.7 411.0,1267.7 414.0,1269.4 417.0,1269.4 420.0,1269.0 423.0,1269.7 426.0,1269.5 429.0,1268.8 432.0,1268.8 435.0,1268.3 438.0,1269.2 441.0,1268.2 444.0,1268.2 447.0,1268.5 450.0,1269.0 453.0,1268.5 456.0,1268.9 459.0,1268.5 462.0,1268.5 465.0,1268.9 468.0,1268.9 471.0,1269.5 474.0,1268.9 477.0,1270.6 480.0,1270.0 483.1,1270.2 486.2,1269.4 489.2,1269.6 492.3,1269.7 495.4,1269.8 498.5,1269.3 501.5,1270.6 504.6,1270.9 507.7,1269.9 510.8,1270.0 513.8,1269.3 516.9,1269.3 520.0,1270.0 523.1,1269.7 526.2,1269.6 529.2,1270.6 532.3,1269.4 535.4,1269.1 538.5,1270.8 541.5,1270.1 544.6,1269.4 547.7,1270.1 550.8,1269.1 553.8,1270.1 556.9,1270.9 560.0,1270.0 563.3,1270.5 566.7,1270.0 570.0,1269.1 573.3,1269.1 576.7,1268.6 580.0,1269.0 583.3,1268.5 586.7,1267.1 590.0,1266.0 593.3,1265.5 596.7,1263.7 600.0,1263.0 603.3,1262.7 606.7,1263.9 610.0,1264.4 613.3,1264.3 616.7,1264.4 620.0,1264.0 623.3,1264.7 626.7,1264.8 630.0,1264.0 633.3,1264.7 636.7,1264.6 640.0,1265.0 643.0,1264.3 646.0,1264.4 649.0,1264.9 652.0,1265.0 655.0,1265.8 658.0,1266.4 661.0,1265.6 664.0,1266.6 667.0,1266.8 670.0,1266.0 673.0,1266.2 676.0,1264.6 679.0,1263.7 682.0,1263.1 685.0,1263.0 688.0,1262.1 691.0,1261.7 694.0,1262.0 697.0,1262.1 700.0,1261.0 703.1,1261.4 706.2,1260.6 709.4,1260.7 712.5,1260.8 715.6,1259.3 718.8,1260.2 721.9,1260.4 725.0,1259.5 728.1,1259.8 731.2,1259.6 734.4,1258.9 737.5,1258.2 740.6,1259.1 743.8,1258.1 746.9,1258.7 750.0,1258.0 753.1,1258.6 756.2,1257.3 759.4,1257.1 762.5,1257.8 765.6,1257.2 768.8,1255.9 771.9,1255.6 775.0,1256.0 778.1,1255.2 781.2,1256.5 784.4,1256.2 787.5,1254.9 790.6,1256.0 793.8,1256.1 796.9,1255.4 800.0,1255.0 803.0,1254.5 806.0,1254.7 809.0,1253.7 812.0,1253.3 815.0,1254.8 818.0,1254.1 821.0,1253.6 824.0,1254.2 827.0,1253.1 830.0,1253.0 833.0,1253.8 836.0,1253.8 839.0,1252.8 842.0,1253.0 845.0,1253.1 848.0,1253.1 851.0,1253.9 854.0,1253.4 857.0,1253.8 860.0,1254.0 863.1,1253.7 866.2,1255.5 869.4,1254.9 872.5,1255.4 875.6,1256.0 878.8,1257.0 881.9,1256.5 885.0,1257.0 888.1,1258.0 891.2,1257.5 894.4,1257.8 897.5,1258.0 900.6,1257.4 903.8,1258.4 906.9,1258.2 910.0,1259.0 913.0,1257.9 916.0,1259.1 919.0,1257.8 922.0,1258.2 925.0,1258.4 928.0,1257.9 931.0,1257.3 934.0,1257.4 937.0,1257.3 940.0,1257.0 943.0,1257.2 946.0,1255.7 949.0,1256.2 952.0,1255.3 955.0,1255.1 958.0,1255.7 961.0,1254.9 964.0,1254.7 967.0,1254.8 970.0,1254.0 973.0,1254.4 976.0,1253.3 979.0,1253.3 982.0,1252.8 985.0,1252.5 988.0,1252.5 991.0,1251.8 994.0,1251.7 997.0,1251.3 1000.0,1251.0 1003.0,1251.8 1006.0,1251.4 1009.0,1251.7 1012.0,1251.8 1015.0,1250.6 1018.0,1251.1 1021.0,1251.8 1024.0,1251.6 1027.0,1250.3 1030.0,1251.0 1033.0,1250.4 1036.0,1251.1 1039.0,1250.5 1042.0,1250.9 1045.0,1250.7 1048.0,1251.9 1051.0,1252.2 1054.0,1252.5 1057.0,1251.3 1060.0,1252.0 1063.0,1252.5 1066.0,1252.6 1069.0,1251.8 1072.0,1253.3 1075.0,1253.6 1078.0,1252.4 1081.0,1253.9 1084.0,1253.0 1087.0,1253.3 1090.0,1253.5 1093.3,1254.1 1096.7,1253.6 1100.0,1252.1 1103.3,1252.4 1106.7,1252.3 1110.0,1252.0 1113.3,1251.4 1116.7,1250.8 1120.0,1250.7 1123.3,1251.1 1126.7,1249.5 1130.0,1250.0 1133.3,1249.8 1136.7,1249.4 1140.0,1248.4 1143.3,1248.7 1146.7,1249.0 1150.0,1248.5 1153.3,1248.4 1156.7,1247.4 1160.0,1248.9 1163.3,1248.4 1166.7,1248.5 1170.0,1247.5 1173.0,1246.8 1176.0,1247.2 1179.0,1246.8 1182.0,1248.2 1185.0,1247.3 1188.0,1247.1 1191.0,1247.7 1194.0,1248.6 1197.0,1248.5 1200.0,1248.0 1203.0,1247.1 1206.0,1246.4 1209.0,1247.3 1212.0,1246.1 1215.0,1245.9 1218.0,1245.0 1221.0,1243.8 1224.0,1243.2 1227.0,1243.8 1230.0,1242.9 1233.0,1242.5 1236.0,1242.0 1239.0,1243.9 1242.0,1243.6 1245.0,1244.2 1248.0,1244.0 1251.0,1243.9 1254.0,1245.9 1257.0,1245.1 1260.0,1246.5 1263.3,1248.7 1266.7,1249.4 1270.0,1251.0 1274.0,1252.7 1278.0,1255.0 1281.0,1254.6 1284.0,1254.8 1287.0,1253.1 1290.0,1253.0 1293.3,1252.2 1296.7,1252.7 1300.0,1252.5 1303.3,1251.8 1306.7,1251.3 1310.0,1251.1 1313.3,1250.7 1316.7,1250.7 1320.0,1251.0 1323.3,1250.3 1326.7,1250.0 1330.0,1250.5 1333.3,1249.3 1336.7,1249.3 1340.0,1249.0 1343.3,1248.3 1346.7,1248.4 1350.0,1247.6 1353.3,1247.9 1356.7,1247.3 1360.0,1248.0 1363.3,1248.3 1366.7,1247.9 1370.0,1247.2 1373.3,1247.6 1376.7,1248.4 1380.0,1247.5 1383.3,1246.2 1386.7,1246.9 1390.0,1245.6 1393.3,1245.2 1396.7,1245.2 1400.0,1244.0 1403.3,1243.1 1406.7,1242.7 1410.0,1242.3 1413.3,1242.2 1416.7,1240.4 1420.0,1240.0 1423.0,1240.7 1426.0,1240.6 1429.0,1240.6 1432.0,1240.5 1436.0,1240.7 1440.0,1241.3 1445.1,1238.7 1450.3,1241.3 1461.8,1241.3 1464.4,1238.5 1469.5,1237.5 1481.0,1240.0 1491.3,1238.1 1497.7,1236.2 1506.0,1234.9 1511.8,1238.7 1518.3,1238.7 1529.8,1235.3 1540.0,1235.5 1545.2,1230.1 1553.5,1229.4 1557.0,1224.6 1560.0,1229.1 1569.6,1231.0 1573.4,1229.4 1579.8,1231.4 1584.3,1228.5 1587.5,1223.7 1590.7,1227.2 1595.2,1231.0 1601.0,1227.4 1604.2,1230.1 1618.3,1230.1 1622.8,1227.2 1629.9,1228.5 1637.6,1231.0 1642.0,1231.0" fill="none" stroke="#4545a8" stroke-width="1.2"/>
<rect x="1456" y="1221" width="187" height="51" fill="#6495ed" fill-opacity="0.33"/>
<rect x="1452.5" y="1235" width="6.5" height="24.5" fill="#6b97ea" fill-opacity="0.9"/>
<rect x="1708" y="67" width="7" height="1206" fill="#f0f0f0"/>
<rect x="1708" y="67" width="7" height="40" fill="#858e9a"/>
<rect x="1708" y="947" width="7" height="120" fill="#858e9a"/>
<rect x="0" y="1273" width="1715" height="7" fill="#f0f0f0"/>
<rect x="0" y="1273" width="1715" height="1" fill="#d4d4d4"/>
<g filter="url(#sh)"><rect x="1520" y="73" width="133" height="73.5" rx="6" ry="6" fill="#f0f0f0"/></g>
<text x="1543" y="90" font-size="14.2" fill="#9a9a9a" textLength="69.5" lengthAdjust="spacingAndGlyphs">Navigation</text>
<path d="M1636 82.1L1642.8 88.9M1642.8 82.1L1636 88.9" stroke="#999" stroke-width="2.8" fill="none"/>
<rect x="1527" y="96" width="120" height="1" fill="#cfcfcf"/>
<g fill="#444">
<rect x="1533.10" y="109.30" width="7.7" height="5.6" rx="1.3"/>
<rect x="1543.25" y="109.30" width="7.7" height="5.6" rx="1.3"/>
<rect x="1553.40" y="109.30" width="7.7" height="5.6" rx="1.3"/>
<rect x="1533.10" y="117.40" width="7.7" height="5.6" rx="1.3"/>
<rect x="1543.25" y="117.40" width="7.7" height="5.6" rx="1.3"/>
<rect x="1553.40" y="117.40" width="7.7" height="5.6" rx="1.3"/>
<rect x="1533.10" y="125.50" width="7.7" height="5.6" rx="1.3"/>
<rect x="1543.25" y="125.50" width="7.7" height="5.6" rx="1.3"/>
<rect x="1553.40" y="125.50" width="7.7" height="5.6" rx="1.3"/>
</g>
<g fill="#b8b8b8">
<path d="M1573.8 120L1587.5 112V128ZM1587 120L1600.8 112V128Z"/>
<path d="M1640 120L1626.3 112V128ZM1626.8 120L1613 112V128Z"/>
</g>
<rect x="0" y="0" width="1715" height="17" fill="#3a4245"/>
<rect x="1600" y="0" width="99" height="17" fill="#5e8a33"/>
<text x="1613.5" y="9" font-size="18" font-weight="bold" fill="#ffffff" textLength="71" lengthAdjust="spacingAndGlyphs">Anmelden</text>
<rect x="0" y="17" width="1715" height="50" fill="#5a6574"/>
<rect x="1714" y="20" width="1" height="44" fill="#e8581c"/>
<text x="3.0" y="47.8" font-size="19.4" fill="#e9eaec" stroke="#e9eaec" stroke-width="0.95" stroke-linejoin="round" textLength="42.2" lengthAdjust="spacingAndGlyphs">Teilen</text>
<text x="90.3" y="47.8" font-size="19.4" fill="#e9eaec" stroke="#e9eaec" stroke-width="0.95" stroke-linejoin="round" textLength="55.3" lengthAdjust="spacingAndGlyphs">Periode</text>
<text x="191" y="47.8" font-size="19.4" fill="#e9eaec" stroke="#e9eaec" stroke-width="0.95" stroke-linejoin="round" textLength="80" lengthAdjust="spacingAndGlyphs">Zeitspanne</text>
<text x="316" y="47.8" font-size="19.4" fill="#e9eaec" stroke="#e9eaec" stroke-width="0.95" stroke-linejoin="round" textLength="49" lengthAdjust="spacingAndGlyphs">Layout</text>
<text x="410.5" y="47.8" font-size="19.4" fill="#e9eaec" stroke="#e9eaec" stroke-width="0.95" stroke-linejoin="round" textLength="103.70000000000005" lengthAdjust="spacingAndGlyphs">Eigenschaften</text>
<circle cx="69.9" cy="41.9" r="12.15" fill="none" stroke="#e9eaec" stroke-width="2.5"/>
<path d="M69.95 33.1V42.2L75.8 48.2" fill="none" stroke="#e9eaec" stroke-width="2.1" stroke-linejoin="miter"/>
<circle cx="171.1" cy="41.9" r="12.15" fill="none" stroke="#e9eaec" stroke-width="2.5"/>
<path d="M171.2 41.9L171.20 32.40A9.5 9.5 0 0 1 178.15 48.38Z" fill="#e9eaec"/>
<rect x="281.8" y="27.6" width="13.5" height="13.5" rx="2.6" fill="#e9eaec"/>
<rect x="297.1" y="27.6" width="13.5" height="13.5" rx="2.6" fill="#e9eaec"/>
<rect x="281.8" y="42.900000000000006" width="13.5" height="13.5" rx="2.6" fill="#e9eaec"/>
<rect x="297.1" y="42.900000000000006" width="13.5" height="13.5" rx="2.6" fill="#e9eaec"/>
<path d="M387.33 32.05L387.74 28.49L392.26 28.49L392.67 32.05L395.15 33.08L397.96 30.85L401.15 34.04L398.92 36.85L399.95 39.33L403.51 39.74L403.51 44.26L399.95 44.67L398.92 47.15L401.15 49.96L397.96 53.15L395.15 50.92L392.67 51.95L392.26 55.51L387.74 55.51L387.33 51.95L384.85 50.92L382.04 53.15L378.85 49.96L381.08 47.15L380.05 44.67L376.49 44.26L376.49 39.74L380.05 39.33L381.08 36.85L378.85 34.04L382.04 30.85L384.85 33.08Z M395.6 42A5.6 5.6 0 1 0 384.4 42A5.6 5.6 0 1 0 395.6 42Z" fill="#e9eaec" fill-rule="evenodd" stroke="#e9eaec" stroke-width="1.2" stroke-linejoin="round"/>
</svg></body></html>
